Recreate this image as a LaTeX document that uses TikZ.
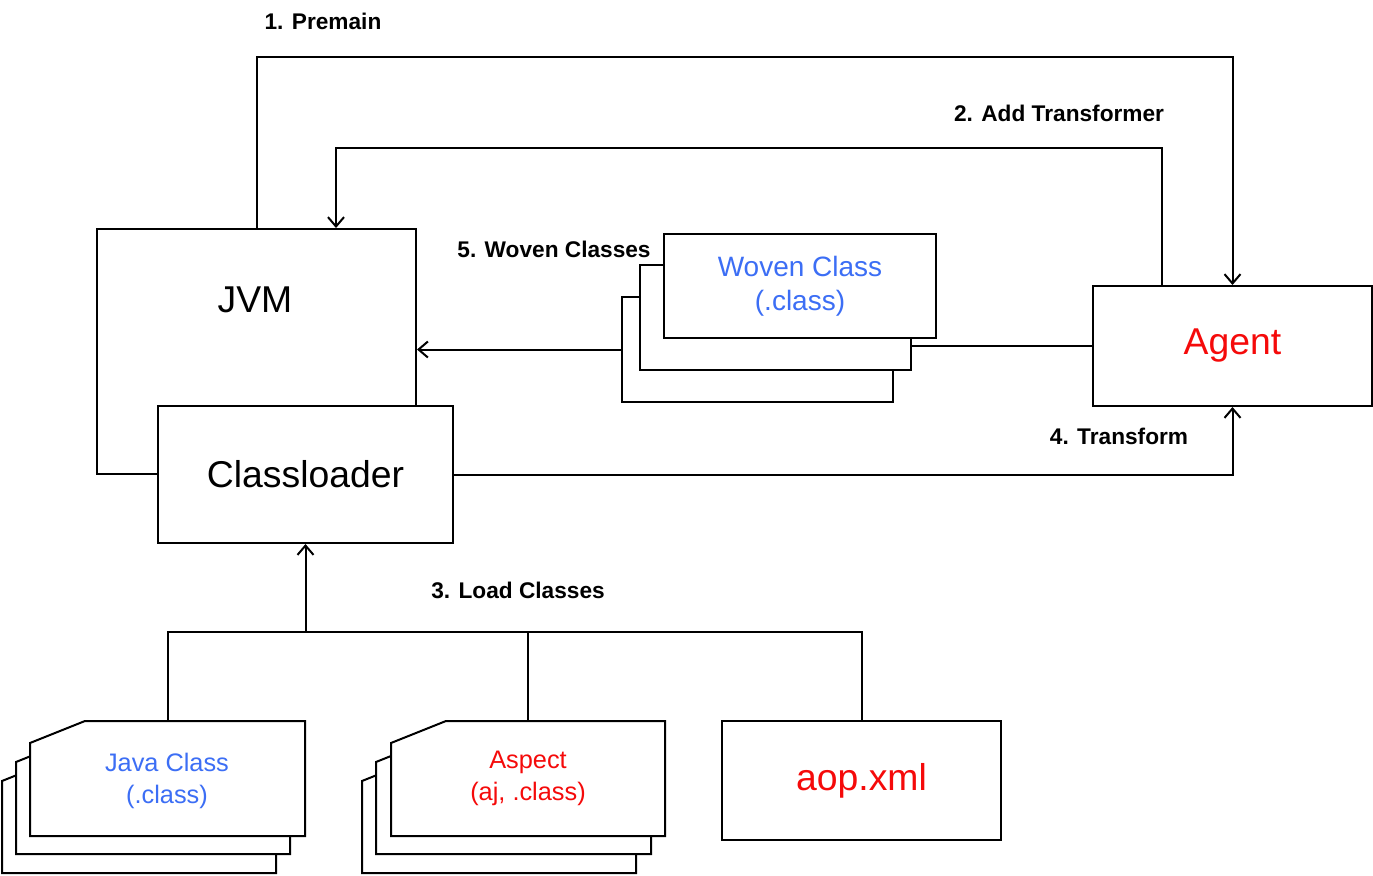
\documentclass[tikz,border=0pt]{standalone}
\usepackage{fontspec}
\setmainfont{Liberation Sans}
\usetikzlibrary{arrows.meta,calc}
\definecolor{fileblue}{RGB}{60,110,245}
\definecolor{filered}{RGB}{245,10,10}
\newcommand\pxu{0.75pt}
\begin{document}
\begin{tikzpicture}[x=0.75pt,y=-0.75pt,
  box/.style={draw,line width=1.5pt,fill=white,inner sep=0pt,anchor=north west},
  bigtext/.style={font=\fontsize{28}{32}\selectfont},
  midtext/.style={font=\fontsize{21}{25.5}\selectfont,text=fileblue,align=center},
  smalltext/.style={font=\fontsize{19}{24}\selectfont,align=center},
  steplabel/.style={font=\bfseries\fontsize{17}{20}\selectfont},
  wire/.style={line width=1.5pt},
  arr/.style={wire,-{Straight Barb[length=7pt,width=12pt,line width=1.5pt]}},
  sheet/.style={line width=1.5pt,fill=white}]
\useasboundingbox (0,0) rectangle (1373,875);

% JVM with its class loader in front
\node[box,minimum width=319*\pxu,minimum height=245*\pxu] (jvm) at (96,228) {};
\node[bigtext] (jvmlbl) at (255,300) {JVM};
\node[box,bigtext,anchor=center,minimum width=295*\pxu,minimum height=137*\pxu] (cl) at (305.5,474.5) {Classloader};

% Agent
\node[box,bigtext,anchor=center,text=filered,minimum width=279*\pxu,minimum height=120*\pxu] (agent) at (1232.5,346) {Agent};

% woven class stack
\node[box,minimum width=271*\pxu,minimum height=105*\pxu] (wovenback) at (621,296) {};
\node[box,minimum width=271*\pxu,minimum height=105*\pxu] (wovenmid) at (639,264) {};
\node[box,midtext,anchor=center,minimum width=272*\pxu,minimum height=104*\pxu] (woven) at (800,286) {Woven Class\\(.class)};

% aop.xml
\node[box,bigtext,anchor=center,text=filered,minimum width=279*\pxu,minimum height=119*\pxu] (aop) at (861.5,780.5) {aop.xml};

% Java class file stack
\draw[sheet] (2,781) -- (57,759) -- (276,759) -- (276,873) -- (2,873) -- cycle;
\draw[sheet] (16,762) -- (71,740) -- (290,740) -- (290,854) -- (16,854) -- cycle;
\draw[sheet] (30,743) -- (85,721) -- (305,721) -- (305,836) -- (30,836) -- cycle;
\coordinate (javatop) at (168,721);
\node[smalltext,text=fileblue] (java) at (167,781) {Java Class\\(.class)};

% aspect file stack
\draw[sheet] (362,781) -- (417,759) -- (636,759) -- (636,873) -- (362,873) -- cycle;
\draw[sheet] (376,762) -- (431,740) -- (651,740) -- (651,854) -- (376,854) -- cycle;
\draw[sheet] (391,743) -- (446,721) -- (665,721) -- (665,836) -- (391,836) -- cycle;
\coordinate (aspecttop) at (528,721);
\node[smalltext,text=filered] (aspect) at (528,778) {Aspect\\(aj, .class)};

% 1. Premain
\draw[arr] (jvm.north) -- ++(0,-171) -| (agent.north);
\node[steplabel] (l1) at (323,21) {1. Premain};

% 2. Add Transformer
\draw[arr] ($(agent.north west)+(70,0)$) -- ++(0,-137) -| ($(jvm.north west)+(240,0)$);
\node[steplabel] (l2) at (1059,113) {2. Add Transformer};

% 3. Load Classes
\coordinate (bus) at (305.5,632);
\draw[wire] (javatop) -- ++(0,-89) -| (aop.north);
\draw[wire] (aspecttop) -- (aspecttop |- bus);
\draw[arr] (bus) -- (cl.south);
\node[steplabel] (l3) at (518,590) {3. Load Classes};

% 4. Transform
\draw[arr] (cl.east) -| (agent.south);
\node[steplabel] (l4) at (1119,436) {4. Transform};

% 5. Woven Classes
\draw[wire] (agent.west) -- (agent.west -| wovenmid.east);
\draw[arr] (wovenback.west) -- (wovenback.west -| jvm.east);
\node[steplabel] (l5) at (554,249) {5. Woven Classes};
\end{tikzpicture}
\end{document}
